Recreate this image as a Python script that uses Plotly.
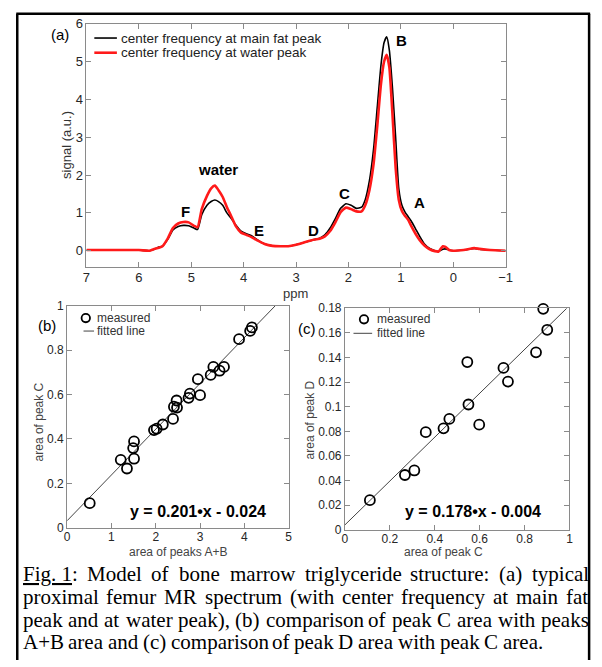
import plotly.graph_objects as go

# ---------------- data ----------------
ppm = [7.0, 6.5, 6.0, 5.8, 5.72, 5.62, 5.55, 5.45, 5.35, 5.25, 5.15, 5.05, 4.95, 4.88,
       4.8, 4.7, 4.62, 4.55, 4.48, 4.4, 4.32, 4.25, 4.15, 4.05, 3.95, 3.85, 3.75, 3.6,
       3.45, 3.3, 3.15, 3.0, 2.85, 2.7, 2.55, 2.45, 2.35, 2.25, 2.15, 2.05, 1.95, 1.85,
       1.75, 1.68, 1.6, 1.52, 1.45, 1.38, 1.32, 1.27, 1.22, 1.16, 1.1, 1.04, 0.98, 0.92,
       0.86, 0.8, 0.72, 0.64, 0.55, 0.45, 0.35, 0.28, 0.2, 0.15, 0.08, 0.0, -0.2, -0.4,
       -0.5, -0.7, -1.0]
signal_fat_center = [0.02, 0.02, 0.02, 0.0, 0.03, 0.1, 0.12, 0.3, 0.55, 0.64, 0.67, 0.66, 0.6, 0.56,
                     0.95, 1.2, 1.3, 1.34, 1.3, 1.2, 1.0, 0.88, 0.68, 0.52, 0.45, 0.4, 0.3, 0.18,
                     0.13, 0.12, 0.12, 0.16, 0.22, 0.28, 0.33, 0.42, 0.6, 0.85, 1.12, 1.24, 1.2, 1.12,
                     1.15, 1.35, 1.85, 2.7, 3.8, 4.9, 5.5, 5.65, 5.3, 4.3, 3.0, 1.65, 1.2, 1.02,
                     0.9, 0.78, 0.58, 0.38, 0.18, 0.06, 0.0, -0.02, 0.04, 0.05, 0.02, 0.0, 0.02, 0.06,
                     0.04, 0.02, 0.0]
signal_water_center = [0.02, 0.02, 0.02, 0.0, 0.04, 0.08, 0.12, 0.32, 0.6, 0.72, 0.76, 0.75, 0.66, 0.62,
                       1.1, 1.45, 1.65, 1.72, 1.6, 1.42, 1.15, 0.95, 0.65, 0.48, 0.42, 0.36, 0.28, 0.18,
                       0.13, 0.12, 0.12, 0.16, 0.22, 0.28, 0.32, 0.38, 0.52, 0.75, 1.02, 1.14, 1.1, 1.04,
                       1.04, 1.2, 1.6, 2.3, 3.3, 4.4, 5.0, 5.18, 4.85, 3.6, 2.2, 1.35, 1.05, 0.92,
                       0.82, 0.65, 0.45, 0.28, 0.14, 0.04, -0.01, -0.02, 0.12, 0.1, 0.02, 0.0, 0.02, 0.07,
                       0.05, 0.02, 0.0]
ppm_ticks = [7, 6, 5, 4, 3, 2, 1, 0, -1]
signal_ticks = [0, 1, 2, 3, 4, 5, 6]
peak_names = ["water", "F", "E", "D", "C", "A", "B"]
peak_ppm = [4.49, 5.115, 3.70, 2.67, 2.07, 0.65, 0.99]
peak_sig = [2.15, 1.03, 0.54, 0.54, 1.50, 1.27, 5.56]

area_ab = [0.51, 1.21, 1.35, 1.51, 1.49, 1.51, 1.96, 2.02, 2.16, 2.39, 2.41, 2.48, 2.47,
           2.74, 2.77, 3.0, 2.95, 3.24, 3.30, 3.44, 3.54, 3.88, 4.13, 4.17]
area_c_b = [0.111, 0.306, 0.267, 0.311, 0.359, 0.389, 0.44, 0.446, 0.465, 0.49, 0.545, 0.541, 0.573,
            0.585, 0.604, 0.597, 0.669, 0.688, 0.724, 0.707, 0.724, 0.849, 0.886, 0.902]
fit_b_x = [0.0, 4.7]
fit_b_y = [0.032, 1.0]
b_xticks = [0, 1, 2, 3, 4, 5]
b_yticks = [0, 0.2, 0.4, 0.6, 0.8, 1]

area_c = [0.111, 0.267, 0.309, 0.36, 0.439, 0.465, 0.55, 0.598, 0.545, 0.706, 0.726, 0.851, 0.901, 0.883]
area_d = [0.0241, 0.0445, 0.0482, 0.0793, 0.0824, 0.0901, 0.1018, 0.0854, 0.1363, 0.1315, 0.1204,
          0.1442, 0.1625, 0.1795]
fit_c_x = [0.0, 0.988]
fit_c_y = [0.004, 0.18]
c_xticks = [0, 0.2, 0.4, 0.6, 0.8, 1]
c_yticks = [0, 0.02, 0.04, 0.06, 0.08, 0.1, 0.12, 0.14, 0.16, 0.18]
c_yticktext = ["0", "0.02", "0.04", "0.06", "0.08", "0.1", "0.12", "0.14", "0.16", "0.18"]

caption_lines = [
    "Fig. 1: Model of bone marrow triglyceride structure: (a) typical",
    "proximal femur MR spectrum (with center frequency at main fat",
    "peak and at water peak), (b) comparison of peak C area with peaks",
    "A+B area and (c) comparison of peak D area with peak C area.",
]
caption_justified = [True, True, True, False]

# ---------------- layout helpers ----------------
W, H = 602, 667
def PX(x):
    return x / W
def PY(y):
    return 1 - y / H

SANS = "Liberation Sans, Arial, sans-serif"
SERIF = "Liberation Serif, Times New Roman, serif"
AX = "#8a8a8a"
TK = "#262626"

fig = go.Figure()

# panel (a)
fig.add_trace(go.Scatter(x=ppm, y=signal_fat_center, mode="lines",
                         line=dict(color="black", width=1.6, shape="spline", smoothing=0.5),
                         xaxis="x", yaxis="y", showlegend=False))
fig.add_trace(go.Scatter(x=ppm, y=signal_water_center, mode="lines",
                         line=dict(color="#ff1a1a", width=2.6, shape="spline", smoothing=0.5),
                         xaxis="x", yaxis="y", showlegend=False))
# panel (b)
fig.add_trace(go.Scatter(x=fit_b_x, y=fit_b_y, mode="lines", line=dict(color="#444", width=1),
                         xaxis="x2", yaxis="y2", showlegend=False))
fig.add_trace(go.Scatter(x=area_ab, y=area_c_b, mode="markers",
                         marker=dict(symbol="circle-open", size=10, color="black", line=dict(width=1.8)),
                         xaxis="x2", yaxis="y2", showlegend=False, cliponaxis=False))
# panel (c)
fig.add_trace(go.Scatter(x=fit_c_x, y=fit_c_y, mode="lines", line=dict(color="#444", width=1),
                         xaxis="x3", yaxis="y3", showlegend=False))
fig.add_trace(go.Scatter(x=area_c, y=area_d, mode="markers",
                         marker=dict(symbol="circle-open", size=10, color="black", line=dict(width=1.8)),
                         xaxis="x3", yaxis="y3", showlegend=False, cliponaxis=False))

def axis(domain, rng, tickvals, fs, ticktext=None, standoff=None):
    d = dict(domain=domain, range=rng, tickvals=tickvals, ticks="inside", ticklen=5,
             tickcolor=AX, showline=True, linecolor=AX, linewidth=1, mirror="ticks",
             zeroline=False, showgrid=False, tickfont=dict(family=SANS, size=fs, color=TK))
    if ticktext is not None:
        d["ticktext"] = ticktext
    if standoff is not None:
        d["ticklabelstandoff"] = standoff
    return d

layout = dict(
    width=W, height=H, autosize=False, margin=dict(l=0, r=0, t=0, b=0),
    paper_bgcolor="white", plot_bgcolor="white", showlegend=False,
    xaxis=axis([PX(84), PX(511)], [7, -1], ppm_ticks, 13, standoff=-2),
    yaxis=axis([PY(266), PY(17)], [-0.44, 6], signal_ticks, 13),
    xaxis2=axis([PX(64.3), PX(290)], [0, 5], b_xticks, 12, standoff=-2),
    yaxis2=axis([PY(532), PY(305)], [0, 1], b_yticks, 12),
    xaxis3=axis([PX(347.3), PX(576)], [0, 1], c_xticks, 12, standoff=-2),
    yaxis3=axis([PY(534), PY(307.7)], [0, 0.18], c_yticks, 12, c_yticktext),
)
layout["xaxis"]["anchor"] = "y"
layout["yaxis"]["anchor"] = "x"
layout["xaxis2"]["anchor"] = "y2"
layout["yaxis2"]["anchor"] = "x2"
layout["xaxis3"]["anchor"] = "y3"
layout["yaxis3"]["anchor"] = "x3"
fig.update_layout(**layout)

ann = []
def ptext(text, x, y, size, xanchor="center", yanchor="middle", bold=False, angle=0,
          family=SANS, color="black"):
    if bold:
        text = "<b>" + text + "</b>"
    ann.append(dict(text=text, x=PX(x), y=PY(y), xref="paper", yref="paper",
                    xanchor=xanchor, yanchor=yanchor, showarrow=False, textangle=angle,
                    font=dict(family=family, size=size, color=color)))

# peak labels (data coords)
for name, px_, sy in zip(peak_names, peak_ppm, peak_sig):
    ann.append(dict(text="<b>" + name + "</b>", x=px_, y=sy, xref="x", yref="y",
                    showarrow=False, font=dict(family=SANS, size=15, color="black")))

# panel labels and axis titles
ptext("(a)", 57.5, 28, 15)
ptext("(b)", 43.5, 325, 15)
ptext("(c)", 308.5, 328, 15)
ptext("signal (a.u.)", 63, 141, 13, angle=-90, color="#333")
ptext("ppm", 297, 293, 13, color="#333")
ptext("area of peak C", 36, 424, 12, angle=-90, color="#444")
ptext("area of peaks A+B", 177, 557, 12, color="#444")
ptext("area of peak D", 312, 422, 12, angle=-90, color="#444")
ptext("area of peak C", 448, 557, 12, color="#444")
ptext("y = 0.201•x - 0.024", 198, 515, 16, bold=True)
ptext("y = 0.178•x - 0.004", 478, 515, 16, bold=True)

# legend-like keys
ptext("center frequency at main fat peak", 117, 31.7, 13.5, xanchor="left", color="#222")
ptext("center frequency at water peak", 117, 46.7, 13.5, xanchor="left", color="#222")
ptext("measured", 92.7, 317.7, 12, xanchor="left", color="#333")
ptext("fitted line", 92.7, 331, 12, xanchor="left", color="#333")
ptext("measured", 377.7, 319, 12, xanchor="left", color="#333")
ptext("fitted line", 377.7, 333.3, 12, xanchor="left", color="#333")

# caption: justified word placement using Times advance widths (per 1000 em)
TIMES = {" ": 250, "(": 333, ")": 333, "+": 564, ",": 250, ".": 250, "1": 500, ":": 278,
         "A": 722, "B": 667, "C": 667, "D": 722, "F": 556, "M": 889, "R": 667,
         "a": 444, "b": 500, "c": 444, "d": 500, "e": 444, "f": 333, "g": 500, "h": 500,
         "i": 278, "k": 500, "l": 278, "m": 778, "n": 500, "o": 500, "p": 500, "q": 500,
         "r": 333, "s": 389, "t": 278, "u": 500, "w": 722, "x": 500, "y": 500}
CAP_FS = 21
CAP_X0, CAP_X1 = 17, 593
cap_y = [579, 602.5, 626, 649]

def wwidth(w):
    return sum(TIMES.get(ch, 500) for ch in w) * CAP_FS / 1000.0

for line, just, cy in zip(caption_lines, caption_justified, cap_y):
    words = line.split(" ")
    if line.startswith("Fig. 1:"):
        words = ["Fig. 1:"] + words[2:]
    widths = [wwidth(w) for w in words]
    if just:
        gap = (CAP_X1 - CAP_X0 - sum(widths)) / (len(words) - 1)
    else:
        gap = TIMES[" "] * CAP_FS / 1000.0
    x = CAP_X0
    for w, wd in zip(words, widths):
        txt = w
        if w == "Fig. 1:":
            txt = "<u>Fig. 1</u>:"
        ptext(txt, x, cy, CAP_FS, xanchor="left", family=SERIF)
        x += wd + gap

fig.update_layout(annotations=ann)

shapes = []
def pline(x0, y0, x1, y1, color, width):
    shapes.append(dict(type="line", xref="paper", yref="paper", x0=PX(x0), y0=PY(y0),
                       x1=PX(x1), y1=PY(y1), line=dict(color=color, width=width)))
def pcircle(cx, cy, r, color, width):
    shapes.append(dict(type="circle", xref="paper", yref="paper", x0=PX(cx - r), y0=PY(cy + r),
                       x1=PX(cx + r), y1=PY(cy - r), line=dict(color=color, width=width)))

pline(92, 31.7, 115, 31.7, "black", 1.6)
pline(92, 46.7, 115, 46.7, "#ff1a1a", 2.6)
pcircle(83.3, 317.7, 4.3, "black", 1.8)
pline(81, 331, 91.7, 331, "#444", 1)
pcircle(366.7, 319, 4.3, "black", 1.8)
pline(356, 333.3, 375, 333.3, "#444", 1)
# frame
pline(13.5, 7, 13.5, 667, "black", 2.5)
pline(596, 7, 596, 667, "black", 2.5)
pline(12.5, 7, 597, 7, "black", 2.5)
fig.update_layout(shapes=shapes)

fig.write_html("out.html", config={"displayModeBar": False},
               post_script="document.body.style.margin='0';document.body.style.overflow='hidden';")
